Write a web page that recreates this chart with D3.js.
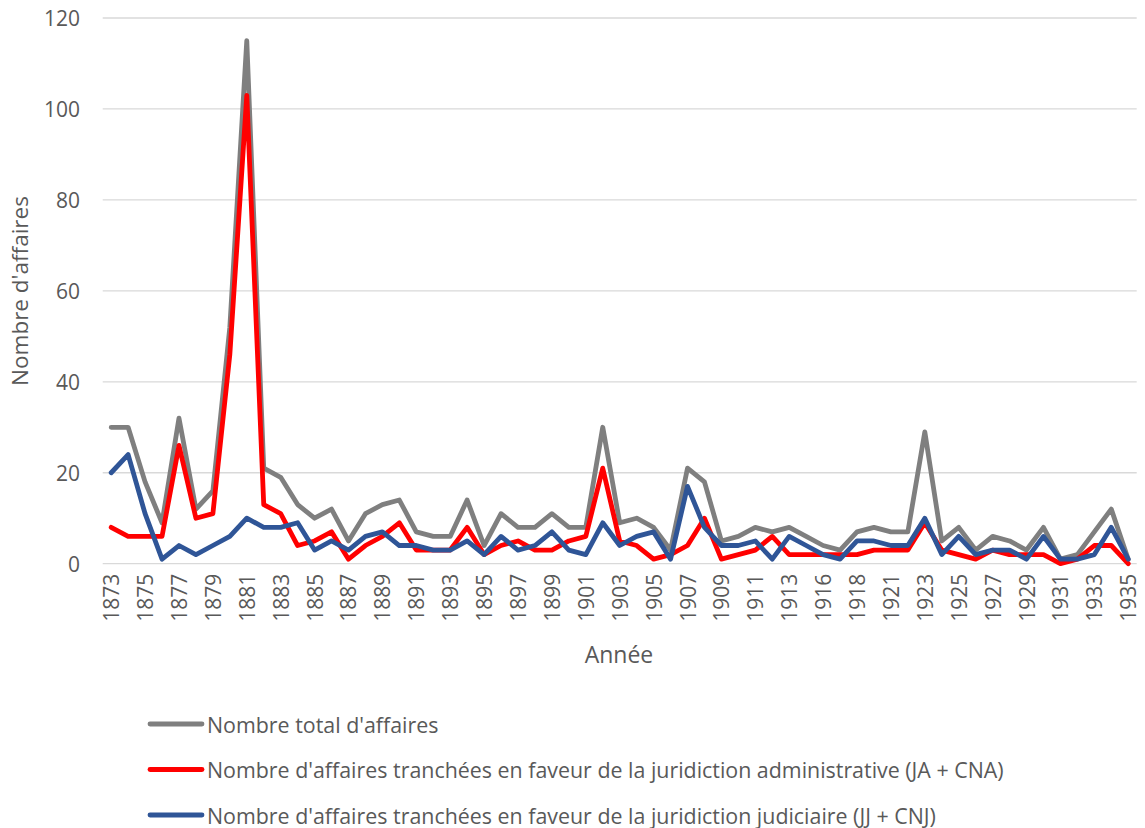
<!DOCTYPE html>
<html>
<head>
<meta charset="utf-8">
<script src="https://cdn.jsdelivr.net/npm/d3@7"></script>
<style>
  body { margin: 0; background: #fff; }
  svg { display: block; }
  text { font-family: "Open Sans", sans-serif; fill: #595959; }
</style>
</head>
<body>
<svg width="1145" height="828"></svg>
<script>
// years (1914/1915 and 1919/1920 have one entry each in the source)
const years = [
  1873, 1874, 1875, 1876, 1877, 1878, 1879, 1880, 1881, 1882,
  1883, 1884, 1885, 1886, 1887, 1888, 1889, 1890, 1891, 1892,
  1893, 1894, 1895, 1896, 1897, 1898, 1899, 1900, 1901, 1902,
  1903, 1904, 1905, 1906, 1907, 1908, 1909, 1910, 1911, 1912,
  1913, 1914, 1916, 1917, 1918, 1920, 1921, 1922, 1923, 1924,
  1925, 1926, 1927, 1928, 1929, 1930, 1931, 1932, 1933, 1934, 1935
];

const total = [
  30, 30, 18, 9, 32, 12, 16, 52, 115, 21,
  19, 13, 10, 12, 5, 11, 13, 14, 7, 6,
  6, 14, 4, 11, 8, 8, 11, 8, 8, 30,
  9, 10, 8, 3, 21, 18, 5, 6, 8, 7,
  8, 6, 4, 3, 7, 8, 7, 7, 29, 5,
  8, 3, 6, 5, 3, 8, 1, 2, 7, 12, 1
];

const administrative = [
  8, 6, 6, 6, 26, 10, 11, 46, 103, 13,
  11, 4, 5, 7, 1, 4, 6, 9, 3, 3,
  3, 8, 2, 4, 5, 3, 3, 5, 6, 21,
  5, 4, 1, 2, 4, 10, 1, 2, 3, 6,
  2, 2, 2, 2, 2, 3, 3, 3, 9, 3,
  2, 1, 3, 2, 2, 2, 0, 1, 4, 4, 0
];

const judiciaire = [
  20, 24, 11, 1, 4, 2, 4, 6, 10, 8,
  8, 9, 3, 5, 3, 6, 7, 4, 4, 3,
  3, 5, 2, 6, 3, 4, 7, 3, 2, 9,
  4, 6, 7, 1, 17, 8, 4, 4, 5, 1,
  6, 4, 2, 1, 5, 5, 4, 4, 10, 2,
  6, 2, 3, 3, 1, 6, 1, 1, 2, 8, 1
];

const yTicks = [0, 20, 40, 60, 80, 100, 120];

const series = [
  { name: "Nombre total d'affaires", values: total, color: "#7f7f7f" },
  { name: "Nombre d'affaires tranchées en faveur de la juridiction administrative (JA + CNA)", values: administrative, color: "#ff0000" },
  { name: "Nombre d'affaires tranchées en faveur de la juridiction judiciaire (JJ + CNJ)", values: judiciaire, color: "#2f5597" }
];

const svg = d3.select("svg");
const plotLeft = 102.7, plotRight = 1136.7, plotTop = 18, plotBottom = 563.7;

const x = d3.scalePoint()
  .domain(years)
  .range([plotLeft, plotRight])
  .padding(0.5);

const y = d3.scaleLinear()
  .domain([0, 120])
  .range([plotBottom, plotTop]);

// gridlines
svg.append("g")
  .selectAll("line")
  .data(yTicks)
  .enter().append("line")
  .attr("x1", plotLeft)
  .attr("x2", plotRight)
  .attr("y1", d => y(d))
  .attr("y2", d => y(d))
  .attr("stroke", "#d9d9d9")
  .attr("stroke-width", 1.3);

// y tick labels
svg.append("g")
  .selectAll("text")
  .data(yTicks)
  .enter().append("text")
  .attr("x", 80)
  .attr("y", d => y(d))
  .attr("text-anchor", "end")
  .attr("dominant-baseline", "central")
  .attr("font-size", 21)
  .text(d => d);

// x tick labels, every other year
svg.append("g")
  .selectAll("text")
  .data(years.filter((d, i) => i % 2 === 0))
  .enter().append("text")
  .attr("transform", d => `translate(${x(d)},${plotBottom + 10}) rotate(-90)`)
  .attr("text-anchor", "end")
  .attr("dominant-baseline", "central")
  .attr("font-size", 21)
  .text(d => d);

// axis titles
svg.append("text")
  .attr("transform", "translate(19,291) rotate(-90)")
  .attr("text-anchor", "middle")
  .attr("dominant-baseline", "central")
  .attr("font-size", 22.5)
  .text("Nombre d'affaires");

svg.append("text")
  .attr("x", 619)
  .attr("y", 654)
  .attr("text-anchor", "middle")
  .attr("dominant-baseline", "central")
  .attr("font-size", 23)
  .text("Année");

// lines
const line = d3.line()
  .x((d, i) => x(years[i]))
  .y(d => y(d));

svg.append("g")
  .selectAll("path")
  .data(series)
  .enter().append("path")
  .attr("d", d => line(d.values))
  .attr("fill", "none")
  .attr("stroke", d => d.color)
  .attr("stroke-width", 4.8)
  .attr("stroke-linejoin", "round")
  .attr("stroke-linecap", "round");

// legend
const legend = svg.append("g")
  .selectAll("g")
  .data(series)
  .enter().append("g")
  .attr("transform", (d, i) => `translate(0,${724 + i * 45.5})`);

legend.append("line")
  .attr("x1", 150)
  .attr("x2", 202)
  .attr("stroke", d => d.color)
  .attr("stroke-width", 4.8)
  .attr("stroke-linecap", "round");

legend.append("text")
  .attr("x", 207)
  .attr("dominant-baseline", "central")
  .attr("font-size", 21.4)
  .text(d => d.name);
</script>
</body>
</html>
